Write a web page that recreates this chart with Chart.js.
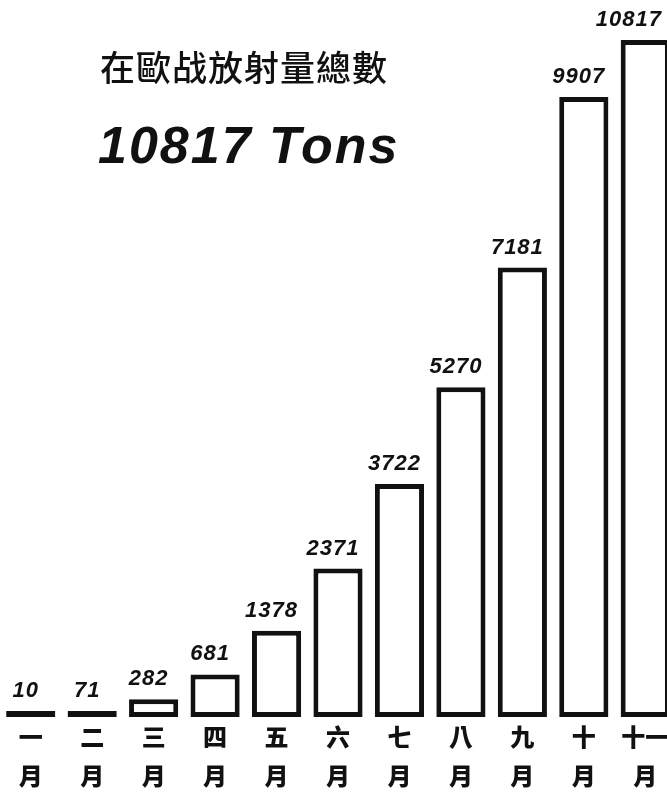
<!DOCTYPE html>
<html>
<head>
<meta charset="utf-8">
<script src="https://cdn.jsdelivr.net/npm/chart.js@4/dist/chart.umd.min.js"></script>
<style>
  html, body { margin: 0; padding: 0; background: #fff; overflow: hidden; }
  #wrap { width: 676px; height: 795px; }
</style>
</head>
<body>
<div id="wrap"><canvas id="chart" width="676" height="795"></canvas></div>
<script>
// months (一月 .. 十一月), two lines each
const months = [
  ['一', '月'], ['二', '月'], ['三', '月'], ['四', '月'], ['五', '月'], ['六', '月'],
  ['七', '月'], ['八', '月'], ['九', '月'], ['十', '月'], ['十一', '月']
];
const tons = [10, 71, 282, 681, 1378, 2371, 3722, 5270, 7181, 9907, 10817];
const valueLabels = ['10', '71', '282', '681', '1378', '2371', '3722', '5270', '7181', '9907', '10817'];
const titleText = '在歐战放射量總數';
const totalText = '10817 Tons';

const ink = '#111';

const textPlugin = {
  id: 'textPlugin',
  afterDatasetsDraw(chart) {
    const ctx = chart.ctx;
    const meta = chart.getDatasetMeta(0);
    ctx.save();
    ctx.fillStyle = ink;
    ctx.textAlign = 'center';
    ctx.textBaseline = 'bottom';
    ctx.font = 'italic bold 22px "Liberation Sans"';
    ctx.letterSpacing = '1px';
    meta.data.forEach((bar, i) => {
      const w = ctx.measureText(valueLabels[i]).width;
      // keep the label inside the visible page (667px wide)
      const x = Math.min(bar.x - 5, 662 - w / 2);
      ctx.fillText(valueLabels[i], x, bar.y - 9);
    });

    // big title
    ctx.textAlign = 'left';
    ctx.textBaseline = 'middle';
    ctx.letterSpacing = '1px';
    ctx.font = '500 35px "Noto Sans CJK TC"';
    ctx.fillText(titleText, 100, 68);

    ctx.font = 'italic bold 52px "Liberation Sans"';
    ctx.letterSpacing = '2px';
    ctx.textBaseline = 'alphabetic';
    ctx.fillText(totalText, 98, 163);
    ctx.restore();
  }
};

new Chart(document.getElementById('chart'), {
  type: 'bar',
  data: {
    labels: months,
    datasets: [{
      data: tons,
      backgroundColor: '#fff',
      borderColor: ink,
      borderWidth: 5,
      borderSkipped: false,
      barPercentage: 0.8,
      categoryPercentage: 1,
      minBarLength: 6
    }]
  },
  options: {
    responsive: false,
    animation: false,
    layout: { padding: { top: 40, left: 0, right: 0, bottom: 0 } },
    plugins: {
      legend: { display: false },
      tooltip: { enabled: false }
    },
    scales: {
      x: {
        grid: { display: false, drawTicks: false },
        border: { display: false },
        ticks: {
          color: ink,
          padding: 0,
          maxRotation: 0,
          autoSkip: false,
          font: { family: '"Noto Sans CJK TC"', size: 24, weight: '900', lineHeight: 1.625 }
        }
      },
      y: {
        display: false,
        min: 0,
        max: 10817
      }
    }
  },
  plugins: [textPlugin]
});
</script>
</body>
</html>
